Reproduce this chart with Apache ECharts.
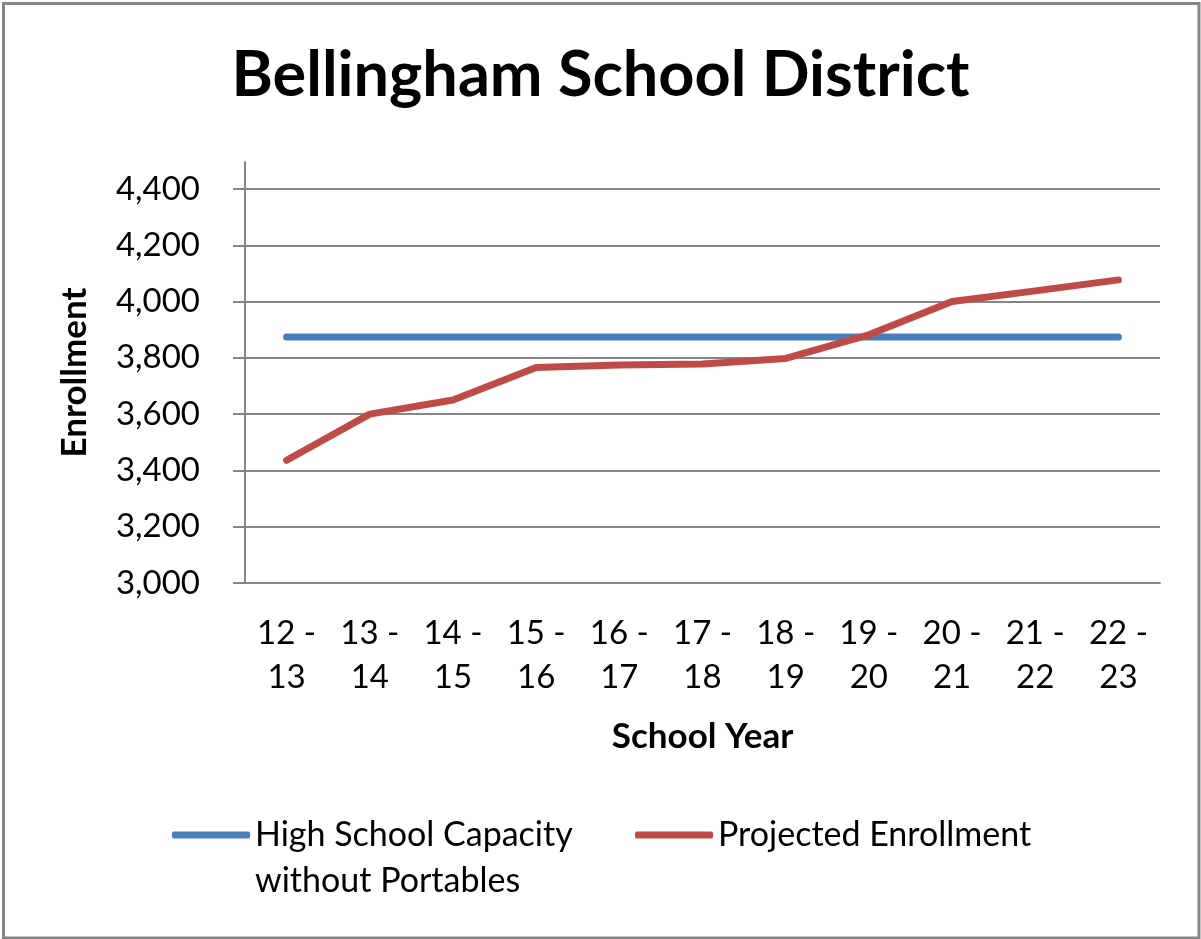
<!DOCTYPE html>
<html>
<head>
<meta charset="utf-8">
<script src="https://cdn.jsdelivr.net/npm/echarts@6/dist/echarts.min.js"></script>
<style>
html,body{margin:0;padding:0;background:#fff;}
#chart{width:1201px;height:939px;}
</style>
</head>
<body>
<div id="chart"></div>
<script>
const categories = ['12 - 13','13 - 14','14 - 15','15 - 16','16 - 17','17 - 18','18 - 19','19 - 20','20 - 21','21 - 22','22 - 23'];
const capacity = [3874,3874,3874,3874,3874,3874,3874,3874,3874,3874,3874];
const projected = [3436,3600,3650,3766,3775,3778,3798,3882,4000,4038,4077];
const seriesNames = ['High School Capacity\nwithout Portables','Projected Enrollment'];
const yMin = 3000, yMax = 4400, yStep = 200;

const gray = '#868686';
const font = 'Lato';
const chart = echarts.init(document.getElementById('chart'));
chart.setOption({
  backgroundColor: '#fff',
  animation: false,
  title: {
    text: 'Bellingham School District',
    left: 'center', top: 44, padding: 0,
    textStyle: {fontFamily: font, fontWeight: 'bold', fontSize: 63, color: '#000'}
  },
  graphic: [{
    type: 'rect', silent: true,
    shape: {x: 3.5, y: 3.5, width: 1195.5, height: 934.5},
    style: {fill: 'none', stroke: gray, lineWidth: 3}
  }],
  legend: [{
    data: [seriesNames[0]], left: 172, top: 766, padding: 0,
    icon: 'roundRect', itemWidth: 78, itemHeight: 7, itemGap: 0,
    formatter: name => '\n' + name,
    textStyle: {fontFamily: font, fontSize: 34, color: '#000', lineHeight: 46}
  },{
    data: [seriesNames[1]], left: 635, top: 812, padding: 0,
    icon: 'roundRect', itemWidth: 78, itemHeight: 7,
    textStyle: {fontFamily: font, fontSize: 34, color: '#000', lineHeight: 46}
  }],
  grid: [
    {left: 245, right: 41, top: 189, bottom: 356},
    {left: 245, right: 41, top: 162, bottom: 356}
  ],
  xAxis: [{
    type: 'category', data: categories, boundaryGap: true, gridIndex: 0,
    name: 'School Year', nameLocation: 'middle', nameGap: 136,
    nameTextStyle: {fontFamily: font, fontWeight: 'bold', fontSize: 35, color: '#000'},
    axisLine: {lineStyle: {color: gray, width: 2}},
    axisTick: {length: 11, lineStyle: {color: gray, width: 2}},
    axisLabel: {
      fontFamily: font, fontSize: 33, color: '#000', margin: 28, lineHeight: 44, interval: 0,
      formatter: v => v.replace(' - ', ' -\n')
    },
    splitLine: {show: false}
  },{
    type: 'value', gridIndex: 1, show: false, min: 0, max: 1
  }],
  yAxis: [{
    type: 'value', gridIndex: 0, min: yMin, max: yMax, interval: yStep,
    axisLine: {show: true, lineStyle: {color: gray, width: 2}},
    axisTick: {show: true, length: 12, lineStyle: {color: gray, width: 2}},
    axisLabel: {fontFamily: font, fontSize: 33, color: '#000', margin: 45,
      formatter: v => v.toLocaleString('en-US')},
    splitLine: {show: true, lineStyle: {color: gray, width: 2}}
  },{
    type: 'value', gridIndex: 1, min: 0, max: 1,
    name: 'Enrollment', nameLocation: 'middle', nameGap: 153, nameRotate: 90,
    nameTextStyle: {fontFamily: font, fontWeight: 'bold', fontSize: 35, color: '#000'},
    axisLine: {show: true, lineStyle: {color: gray, width: 2}},
    axisTick: {show: false}, axisLabel: {show: false}, splitLine: {show: false}
  }],
  series: [{
    name: seriesNames[0], type: 'line', data: capacity, symbol: 'none',
    xAxisIndex: 0, yAxisIndex: 0,
    itemStyle: {color: '#4A7EBB'},
    lineStyle: {color: '#4A7EBB', width: 7, cap: 'round', join: 'round'}
  },{
    name: seriesNames[1], type: 'line', data: projected, symbol: 'none',
    xAxisIndex: 0, yAxisIndex: 0,
    itemStyle: {color: '#BE4B48'},
    lineStyle: {color: '#BE4B48', width: 7, cap: 'round', join: 'round'}
  }]
});
</script>
</body>
</html>
